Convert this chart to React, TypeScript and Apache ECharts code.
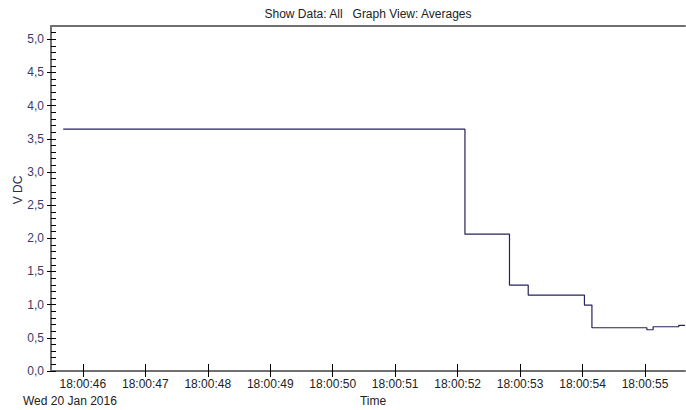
import React, { useEffect, useRef } from "react";
import * as echarts from "echarts";

// Step changes: time (seconds after 18:00:00) and averaged voltage held from that time
const changeTimes = [45.685, 52.117, 52.83, 53.13, 54.03, 54.15, 55.03, 55.13, 55.54, 55.64];
const voltages = [3.645, 2.063, 1.295, 1.145, 0.994, 0.652, 0.622, 0.667, 0.688, 0.688];

const xTickSeconds = [46, 47, 48, 49, 50, 51, 52, 53, 54, 55];
const yMajorTicks = [0, 0.5, 1, 1.5, 2, 2.5, 3, 3.5, 4, 4.5, 5];
const yMinorTicks = [0, 0.1, 0.2, 0.3, 0.4, 0.5, 0.6, 0.7, 0.8, 0.9, 1, 1.1, 1.2, 1.3, 1.4, 1.5, 1.6, 1.7, 1.8, 1.9, 2, 2.1, 2.2, 2.3, 2.4, 2.5, 2.6, 2.7, 2.8, 2.9, 3, 3.1, 3.2, 3.3, 3.4, 3.5, 3.6, 3.7, 3.8, 3.9, 4, 4.1, 4.2, 4.3, 4.4, 4.5, 4.6, 4.7, 4.8, 4.9, 5, 5.1];

const xMin = 45.49;
const xMax = 55.64;
const yMin = 0;
const yMax = 5.2;

const titleText = "Show Data: All   Graph View: Averages";
const yName = "V DC";
const xName = "Time";
const dateText = "Wed 20 Jan 2016";

const FONT = "Liberation Sans, Arial, sans-serif";

export default function App() {
  const ref = useRef<HTMLDivElement>(null);
  useEffect(() => {
    if (!ref.current) return;
    const chart = echarts.init(ref.current, undefined, { renderer: "svg" });
    const data = changeTimes.map((t, i) => [t, voltages[i]]);
    const axisLineStyle = { color: "#707070", width: 2 };
    const tickStyle = { color: "#000000", width: 1 };
    chart.setOption({
      animation: false,
      backgroundColor: "#ffffff",
      grid: { left: 51, right: 1, top: 26, bottom: 39, containLabel: false },
      graphic: [
        {
          type: "text",
          x: 368,
          y: 14,
          style: { text: titleText, align: "center", verticalAlign: "middle", font: `12px ${FONT}`, fill: "#222222" },
        },
        {
          type: "text",
          x: 18,
          y: 190,
          rotation: Math.PI / 2,
          style: { text: yName, align: "center", verticalAlign: "middle", font: `12px ${FONT}`, fill: "#2a2a50" },
        },
        {
          type: "text",
          x: 373,
          y: 401,
          style: { text: xName, align: "center", verticalAlign: "middle", font: `12px ${FONT}`, fill: "#222222" },
        },
        {
          type: "text",
          x: 23,
          y: 401,
          style: { text: dateText, align: "left", verticalAlign: "middle", font: `12px ${FONT}`, fill: "#222222" },
        },
      ],
      xAxis: [
        {
          type: "value",
          position: "bottom",
          min: xMin,
          max: xMax,
          splitLine: { show: false },
          axisLine: { show: true, onZero: false, lineStyle: axisLineStyle },
          axisTick: { show: true, inside: false, length: 6, lineStyle: tickStyle, customValues: xTickSeconds },
          axisLabel: {
            show: true,
            margin: 7,
            customValues: xTickSeconds,
            formatter: (v: number) => `18:00:${String(Math.round(v)).padStart(2, "0")}`,
            color: "#222222",
            fontSize: 12,
            fontFamily: FONT,
          },
        },
        {
          type: "value",
          position: "bottom",
          min: xMin,
          max: xMax,
          splitLine: { show: false },
          axisLine: { show: false, onZero: false },
          axisTick: { show: true, inside: true, length: 7, lineStyle: tickStyle, customValues: xTickSeconds },
          axisLabel: { show: false },
        },
        {
          type: "value",
          position: "top",
          min: xMin,
          max: xMax,
          splitLine: { show: false },
          axisLine: { show: true, onZero: false, lineStyle: axisLineStyle },
          axisTick: { show: false },
          axisLabel: { show: false },
        },
      ],
      yAxis: [
        {
          type: "value",
          position: "left",
          min: yMin,
          max: yMax,
          splitLine: { show: false },
          axisLine: { show: true, onZero: false, lineStyle: axisLineStyle },
          axisTick: { show: true, inside: false, length: 4, lineStyle: tickStyle, customValues: yMajorTicks },
          axisLabel: {
            show: true,
            margin: 7,
            customValues: yMajorTicks,
            formatter: (v: number) => v.toFixed(1).replace(".", ","),
            color: "#3a3a6a",
            fontSize: 12,
            fontFamily: FONT,
          },
        },
        {
          type: "value",
          position: "left",
          min: yMin,
          max: yMax,
          splitLine: { show: false },
          axisLine: { show: false, onZero: false },
          axisTick: { show: true, inside: true, length: 5, lineStyle: tickStyle, customValues: yMinorTicks },
          axisLabel: { show: false },
        },
      ],
      series: [
        {
          type: "line",
          xAxisIndex: 0,
          yAxisIndex: 0,
          step: "end",
          data,
          showSymbol: false,
          symbol: "none",
          lineStyle: { color: "#23235a", width: 1.2 },
        },
      ],
    });
    return () => chart.dispose();
  }, []);
  return (
    <div
      ref={ref}
      style={{ position: "absolute", left: 0, top: 0, width: 686, height: 410, background: "#fff" }}
    />
  );
}
